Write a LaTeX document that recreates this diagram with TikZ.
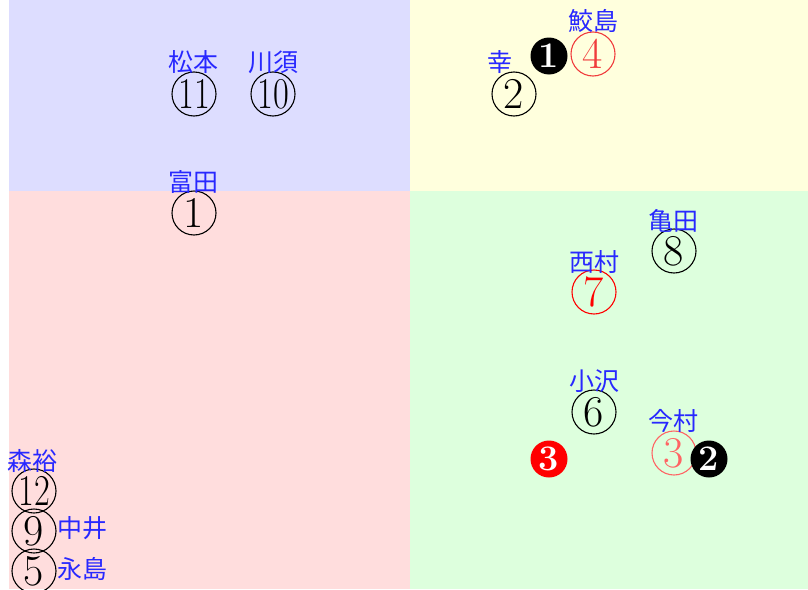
\documentclass[tikz,border=0pt]{standalone}
\usepackage{fontspec}
\newfontfamily\cjk{Noto Sans CJK JP}
\definecolor{bgblue}{RGB}{221,221,255}
\definecolor{bgyellow}{RGB}{255,255,221}
\definecolor{bgpink}{RGB}{255,221,221}
\definecolor{bggreen}{RGB}{221,255,221}
\definecolor{lblblue}{RGB}{40,40,255}
\definecolor{redA}{RGB}{255,0,0}
\definecolor{redB}{RGB}{240,60,60}
\definecolor{redC}{RGB}{255,100,100}
\tikzset{
  num/.style={circle,draw=#1,text=#1,line width=1.1pt,minimum size=44pt,inner sep=0pt,
    font=\fontsize{44}{44}\selectfont},
  num/.default=black,
  blk/.style={circle,fill=#1,text=white,minimum size=37pt,inner sep=0pt,
    font=\bfseries\fontsize{36}{36}\selectfont},
  blk/.default=black,
  lbl/.style={text=lblblue,inner sep=0pt,font=\cjk\fontsize{25}{25}\selectfont},
}
\newcommand{\twod}[1]{\scalebox{0.78}[1]{#1}}
\begin{document}
\begin{tikzpicture}[x=1pt,y=-1pt]
\useasboundingbox (0,0) rectangle (808,589);
\fill[white] (0,0) rectangle (808,589);
\fill[bgblue] (9,0) rectangle (410,191);
\fill[bgyellow] (410,0) rectangle (808,191);
\fill[bgpink] (9,191) rectangle (410,589);
\fill[bggreen] (410,191) rectangle (808,589);
\begin{scope}
\clip (0,0) rectangle (808,589);
% top-left
\node[num] (n11) at (194,94) {\twod{11}};
\node[lbl] (l11) at (193,62) {松本};
\node[num] (n10) at (273,94) {\twod{10}};
\node[lbl] (l10) at (273,62) {川須};
% top-right
\node[num] (n2) at (514,94) {2};
\node[lbl] (l2) at (500,62) {幸};
\node[blk] (b1) at (549,56) {1};
\node[num=redB] (n4) at (593,54) {4};
\node[lbl] (l4) at (593,21) {鮫島};
% left column
\node[num] (n1) at (194,213) {1};
\node[lbl] (l1) at (193,182) {富田};
\node[num] (n12) at (34,491) {\twod{12}};
\node[lbl] (l12) at (33,461) {森裕};
\node[num] (n9) at (34,531) {9};
\node[lbl] (l9) at (82,528) {中井};
\node[num] (n5) at (34,571) {5};
\node[lbl] (l5) at (82,569) {永島};
% bottom-right
\node[num] (n8) at (674,251) {8};
\node[lbl] (l8) at (673,221) {亀田};
\node[num=redA] (n7) at (594,292) {7};
\node[lbl] (l7) at (594,262) {西村};
\node[num] (n6) at (594,412) {6};
\node[lbl] (l6) at (594,381) {小沢};
\node[num=redC] (n3) at (674,453) {3};
\node[lbl] (l3) at (673,421) {今村};
\node[blk] (b2) at (709,459) {2};
\node[blk=redA] (b3) at (549,459) {3};
\end{scope}
\end{tikzpicture}
\end{document}
